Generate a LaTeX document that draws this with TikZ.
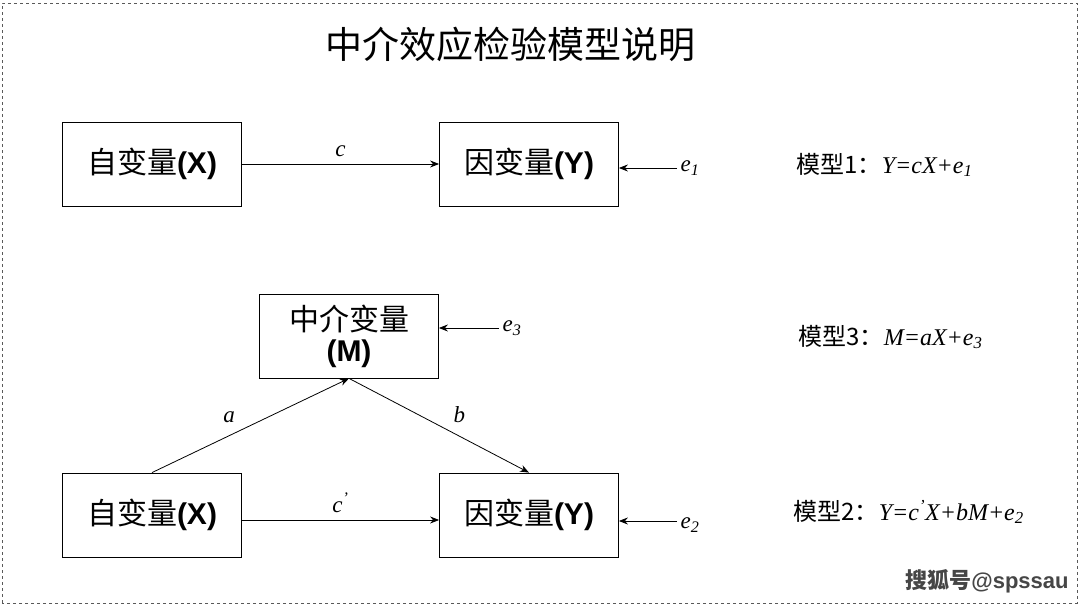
\documentclass[tikz,border=0pt]{standalone}
\usepackage{fontspec}
\setmainfont{Liberation Serif}
\setsansfont{Liberation Sans}
\newfontfamily\cjk{Noto Sans CJK SC}
\usetikzlibrary{arrows.meta}
\usetikzlibrary{positioning}

\tikzset{
  varbox/.style={draw, thick, minimum width=179pt, minimum height=84pt, font=\fontsize{30}{33}\selectfont},
  pathline/.style={-{Stealth[length=9pt,width=7pt]}, thick},
  lbl/.style={font=\fontsize{23}{26}\selectfont\itshape},
  eqn/.style={anchor=west, font=\fontsize{24}{27}\selectfont}
}

\begin{document}
\begin{tikzpicture}[x=1pt, y=1pt]
\useasboundingbox (0,0) rectangle (1080,605);
\draw[dashed, gray!70!black] (2,2) rectangle (1077,602);

\node at (510,561) (title) {\fontsize{37}{40}\selectfont\cjk 中介效应检验模型说明};

% model 1
\node[varbox] at (152,441) (X1) {\cjk 自变量\textsf{\textbf{(X)}}};
\node[varbox] at (529,441) (Y1) {\cjk 因变量\textsf{\textbf{(Y)}}};
\draw[pathline] (X1) -- node[lbl, above=4pt] {c} (Y1);
\node[lbl] at (690,437) (e1) {e\textsubscript{1}};
\draw[pathline] (e1.west) -- (Y1.east |- e1.west);
\node[eqn] at (793,440) (m1) {\cjk 模型1：\rmfamily\itshape Y=cX+e\textsubscript{1}};

% model 3
\node[varbox, align=center] at (349,269) (M) {\cjk 中介变量\\[-2pt]\textsf{\textbf{(M)}}};
\node[lbl] at (512,277) (e3) {e\textsubscript{3}};
\draw[pathline] (e3.west) -- (M.east |- e3.west);
\node[eqn] at (795,268) (m3) {\cjk 模型3：\rmfamily\itshape M=aX+e\textsubscript{3}};

% model 2
\node[varbox] at (152,90) (X2) {\cjk 自变量\textsf{\textbf{(X)}}};
\node[varbox] at (529,90) (Y2) {\cjk 因变量\textsf{\textbf{(Y)}}};
\draw[pathline] (X2.north) -- node[lbl, above left=4pt and 2pt, pos=0.45] {a} (M.south);
\draw[pathline] (M.south) -- node[lbl, above right=4pt and 2pt, pos=0.55] {b} (Y2.north);
\draw[pathline] ([yshift=-5pt]X2.east) -- node[lbl, above=4pt] {c\textsuperscript{'}} ([yshift=-5pt]Y2.west);
\node[lbl] at (690,80) (e2) {e\textsubscript{2}};
\coordinate (e2in) at ([yshift=4pt]e2.west);
\draw[pathline] (e2in) -- (Y2.east |- e2in);
\node[eqn] at (790,93) (m2) {\cjk 模型2：\rmfamily\itshape Y=c\textsuperscript{'}X+bM+e\textsubscript{2}};

\node[font=\fontsize{22}{25}\selectfont\bfseries, text=gray!55!black] at (987,24) (wm) {\cjk 搜狐号\sffamily @spssau};
\end{tikzpicture}
\end{document}
